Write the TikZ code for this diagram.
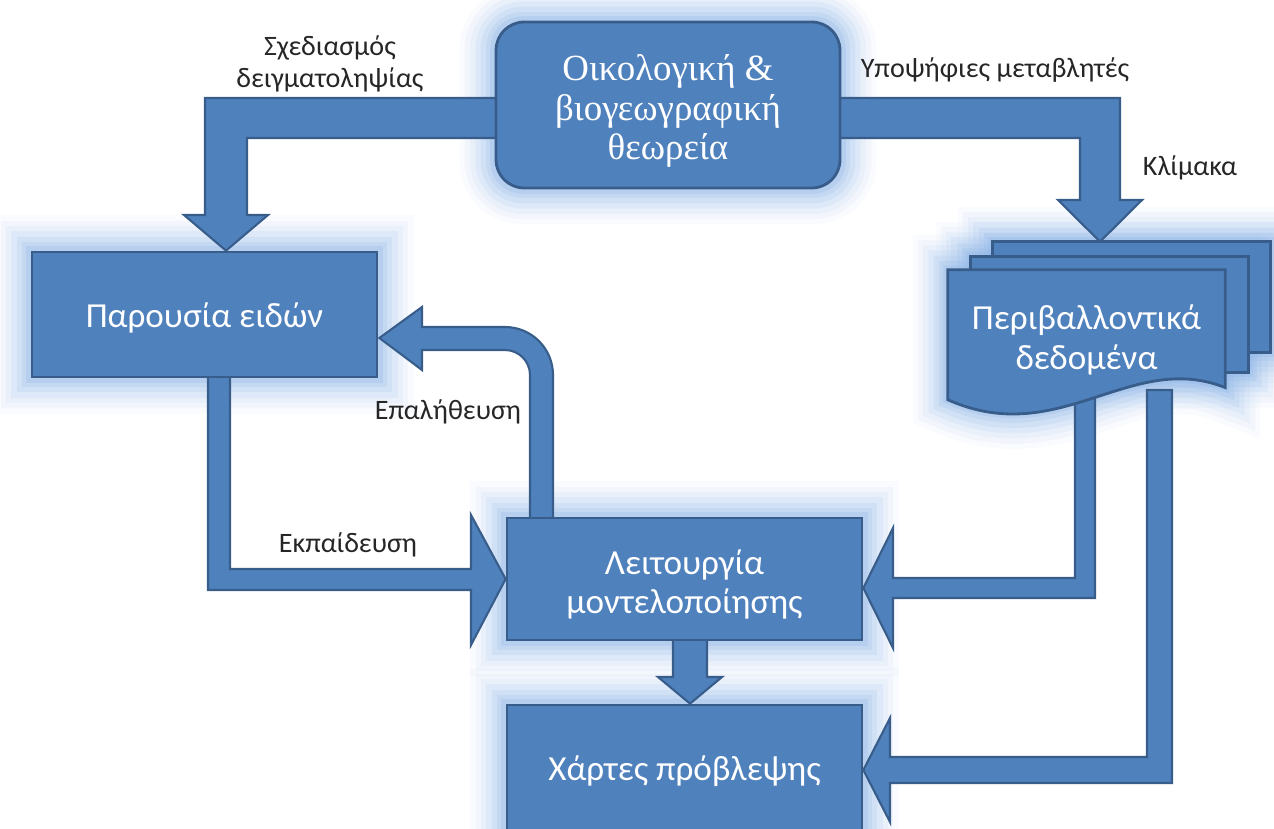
\documentclass[tikz,border=0pt]{standalone}
\usepackage{fontspec}
\setmainfont{Carlito}
\newfontfamily\serifgr{Liberation Serif}
\usetikzlibrary{calc}

\definecolor{boxblue}{HTML}{4F81BD}
\definecolor{boxline}{HTML}{385D8A}
\definecolor{glowblue}{HTML}{8DB4E6}

\pgfdeclarelayer{glowlayer}
\pgfdeclarelayer{arrowlayer}
\pgfdeclarelayer{doclayer}
\pgfsetlayers{glowlayer,arrowlayer,doclayer,main}

% lower a text block without changing the node size
\newcommand{\lowered}[2]{\raisebox{-#1}[\height][\depth]{\begin{tabular}{@{}c@{}}#2\end{tabular}}}

\tikzset{
  box/.style={draw=boxline, line width=1.6pt, fill=boxblue, text=white, align=center,
    inner sep=0pt, font=\fontsize{20}{22.7}\selectfont},
  lbl/.style={text=black!85, align=center, font=\fontsize{16}{18}\selectfont},
  arr/.style={draw=boxline, line width=1.2pt, fill=boxblue, line join=miter},
  glow/.style={preaction={draw=glowblue, line width=40pt, opacity=.05},
    preaction={draw=glowblue, line width=34pt, opacity=.07},
    preaction={draw=glowblue, line width=28pt, opacity=.09},
    preaction={draw=glowblue, line width=22pt, opacity=.12},
    preaction={draw=glowblue, line width=16pt, opacity=.15},
    preaction={draw=glowblue, line width=10pt, opacity=.2},
    preaction={draw=glowblue, line width=5pt, opacity=.25}}
}

\begin{document}
\begin{tikzpicture}[x=0.02cm, y=-0.02cm]
\useasboundingbox (0,0) rectangle (1274,828);

% boxes
\node[box, rounded corners=16pt, minimum width=6.88cm, minimum height=3.32cm,
  font=\serifgr\fontsize{21}{22.7}\selectfont] (theo) at (668,105)
  {\lowered{4pt}{Οικολογική \&\\βιογεωγραφική\\θεωρεία}};
\node[box, minimum width=6.9cm, minimum height=2.5cm] (pres) at (204.5,314.5)
  {\lowered{2.8pt}{Παρουσία ειδών}};
\node[box, minimum width=7.1cm, minimum height=2.44cm] (model) at (684.5,579)
  {\lowered{4pt}{Λειτουργία\\μοντελοποίησης}};
\node[box, minimum width=7.1cm, minimum height=2.6cm] (maps) at (684.5,770)
  {\lowered{1.5pt}{Χάρτες πρόβλεψης}};
\node[text=white, align=center, inner sep=0pt, minimum width=5.54cm, minimum height=2.64cm,
  font=\fontsize{20}{22.7}\selectfont] (env) at (1086.5,336)
  {\lowered{3pt}{Περιβαλλοντικά\\δεδομένα}};

% document stack
\begin{pgfonlayer}{doclayer}
  \filldraw[arr, line width=1.6pt] ($(env.north west)+(45,-28)$) rectangle ($(env.north east)+(45,83)$);
  \filldraw[arr, line width=1.6pt] ($(env.north west)+(23,-13)$) rectangle ($(env.north east)+(23,103)$);
  \filldraw[arr, line width=1.6pt] (env.north west) -- (env.north east) -- ($(env.north east)+(0,118)$)
    .. controls ($(env.north east)+(-95,80)$) and ($(env.north west)+(112,180)$) .. ($(env.north west)+(0,130)$) -- cycle;
\end{pgfonlayer}

% glow
\begin{pgfonlayer}{glowlayer}
  \foreach \n in {pres,model,maps}
    \path[glow] (\n.south west) rectangle (\n.north east);
  \path[glow, rounded corners=16pt] (theo.south west) rectangle (theo.north east);
  \path[glow] ($(env.north west)+(45,-28)$) rectangle ($(env.north east)+(45,83)$);
  \path[glow] ($(env.north west)+(23,-13)$) rectangle ($(env.north east)+(23,103)$);
  \path[glow] (env.north west) -- (env.north east) -- ($(env.north east)+(0,118)$)
    .. controls ($(env.north east)+(-95,80)$) and ($(env.north west)+(112,180)$) .. ($(env.north west)+(0,130)$) -- cycle;
\end{pgfonlayer}

% block arrows
\begin{pgfonlayer}{arrowlayer}
  \filldraw[arr] ($(pres.north)+(21.5,0)$) -- (268,215) -- (247,215) -- (247,138) -- (510,138)
    -- (510,98) -- (205,98) -- (205,215) -- (184,215) -- cycle;
  \filldraw[arr] ($(env.north)+(13.5,-28)$) -- (1142,200) -- (1120,200) -- (1120,98) -- (826,98)
    -- (826,138) -- (1080,138) -- (1080,200) -- (1058,200) -- cycle;
  \filldraw[arr] (model.west) -- (471,515) -- (471,569) -- (230,569) -- (230,365) -- (208,365)
    -- (208,590) -- (471,590) -- (471,645) -- cycle;
  \filldraw[arr] ($(pres.east)+(1,23.5)$) -- (422,307) -- (422,327) -- (505,327)
    .. controls (531.5,327) and (553,348.5) .. (553,375) -- (553,530) -- (530,530) -- (530,375)
    .. controls (530,361.2) and (518.8,350) .. (505,350) -- (422,350) -- (422,370) -- cycle;
  \filldraw[arr] ($(model.east)+(0,9)$) -- (893,528) -- (893,578) -- (1075,578) -- (1075,395)
    -- (1095,395) -- (1095,598) -- (893,598) -- (893,648) -- cycle;
  \filldraw[arr] (maps.east) -- (890,718) -- (890,757) -- (1147,757) -- (1147,390) -- (1172,390)
    -- (1172,783) -- (890,783) -- (890,822) -- cycle;
  \filldraw[arr] ($(maps.north)+(5.5,0)$) -- (722,677) -- (707,677) -- (707,632) -- (673,632)
    -- (673,677) -- (658,677) -- cycle;
\end{pgfonlayer}

% labels
\node[lbl] (lsample) at (330,64) {Σχεδιασμός\\δειγματοληψίας};
\node[lbl] (lcand) at (995,70) {Υποψήφιες μεταβλητές};
\node[lbl] (lscale) at (1190,168) {Κλίμακα};
\node[lbl] (lvalid) at (448,412) {Επαλήθευση};
\node[lbl] (ltrain) at (348,545) {Εκπαίδευση};
\end{tikzpicture}
\end{document}
